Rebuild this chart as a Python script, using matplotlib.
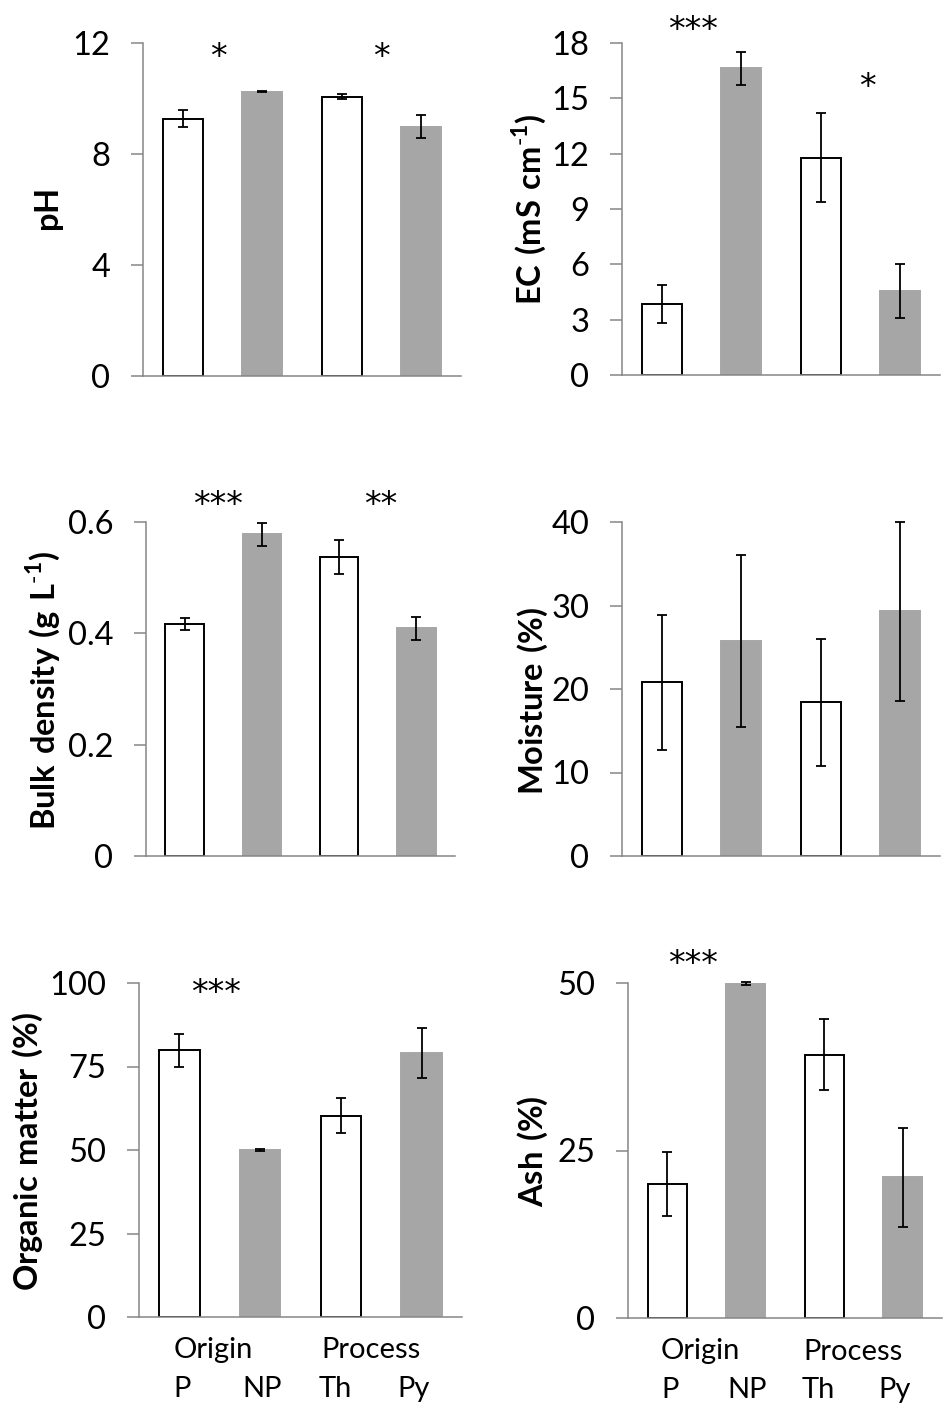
import numpy as np
import matplotlib
matplotlib.use("Agg")
import matplotlib.pyplot as plt
from matplotlib.transforms import blended_transform_factory

plt.rcParams['font.family'] = ['Lato', 'DejaVu Sans']
plt.rcParams['mathtext.fontset'] = 'custom'
plt.rcParams['mathtext.rm'] = 'Lato'
plt.rcParams['mathtext.bf'] = 'Lato:bold'

# categories
groups = ['P', 'NP', 'Th', 'Py']
factors = ['Origin', 'Process']

# means and error bars
ph_mean = [9.27, 10.25, 10.07, 8.99]
ph_err = [0.30, 0.03, 0.09, 0.41]
ec_mean = [3.85, 16.63, 11.78, 4.57]
ec_err = [1.02, 0.90, 2.40, 1.47]
bd_mean = [0.417, 0.578, 0.537, 0.409]
bd_err = [0.011, 0.021, 0.030, 0.021]
moist_mean = [20.8, 25.8, 18.4, 29.3]
moist_err = [8.1, 10.3, 7.6, 10.7]
om_mean = [79.8, 50.0, 60.3, 79.0]
om_err = [5.0, 0.4, 5.2, 7.4]
ash_mean = [20.0, 49.9, 39.3, 21.0]
ash_err = [4.8, 0.2, 5.3, 7.4]

# significance marks (origin comparison, process comparison)
ph_sig = ['*', '*']
ec_sig = ['***', '*']
bd_sig = ['***', '**']
moist_sig = ['', '']
om_sig = ['***', '']
ash_sig = ['***', '']

W, H = 950, 1428
fig = plt.figure(figsize=(W / 100, H / 100), dpi=100)

GRAY = '#a6a6a6'
AXC = '#868686'


def make_axes(left, right, top, bottom):
    return fig.add_axes([left / W, 1 - bottom / H, (right - left) / W, (bottom - top) / H])


panels = [
    # box in pixels, data, ticks, tick labels, ylabel, label pos, stars (x, y)
    dict(box=(143, 461, 43, 376), mean=ph_mean, err=ph_err, ymax=12,
         ticks=[0, 4, 8, 12], tl=None, ylabel=r'$\mathbf{pH}$',
         lab=(50, 210), sig=ph_sig, sigpos=[(0.45, 11.46), (2.5, 11.46)]),
    dict(box=(622, 940, 43, 375), mean=ec_mean, err=ec_err, ymax=18,
         ticks=[0, 3, 6, 9, 12, 15, 18], tl=None,
         ylabel=r'$\mathbf{EC\ (mS\ cm}^{\text{-}\mathbf{1}}\mathbf{)}$',
         lab=(529, 209), sig=ec_sig, sigpos=[(0.39, 18.7), (2.59, 15.6)]),
    dict(box=(146, 455, 522, 856), mean=bd_mean, err=bd_err, ymax=0.6,
         ticks=[0, 0.2, 0.4, 0.6], tl=['0', '0.2', '0.4', '0.6'],
         ylabel=r'$\mathbf{Bulk\ density\ (g\ L}^{\text{-}\mathbf{1}}\mathbf{)}$',
         lab=(43, 690), sig=bd_sig, sigpos=[(0.43, 0.629), (2.54, 0.629)]),
    dict(box=(622, 940, 522, 856), mean=moist_mean, err=moist_err, ymax=40,
         ticks=[0, 10, 20, 30, 40], tl=None, ylabel=r'$\mathbf{Moisture\ (\%)}$',
         lab=(533, 701), sig=moist_sig, sigpos=[(0.5, 42), (2.5, 42)]),
    dict(box=(139, 462, 983, 1317), mean=om_mean, err=om_err, ymax=100,
         ticks=[0, 25, 50, 75, 100], tl=None,
         ylabel=r'$\mathbf{Organic\ matter\ (\%)}$',
         lab=(28, 1151), sig=om_sig, sigpos=[(0.45, 96.8), (2.5, 96.8)]),
    dict(box=(628, 942, 983, 1318), mean=ash_mean, err=ash_err, ymax=50,
         ticks=[0, 25, 50], tl=None, ylabel=r'$\mathbf{Ash\ (\%)}$',
         lab=(533, 1151), sig=ash_sig, sigpos=[(0.33, 52.7), (2.5, 52.7)]),
]

x = np.arange(len(groups))
face = ['white', GRAY, 'white', GRAY]
edge = ['black', GRAY, 'black', GRAY]

for i, p in enumerate(panels):
    ax = make_axes(*p['box'])
    ax.bar(x, p['mean'], width=0.5, color=face, edgecolor=edge, linewidth=1.4, zorder=2)
    ax.errorbar(x, p['mean'], yerr=p['err'], fmt='none', ecolor='black',
                elinewidth=1.3, capsize=3.8, capthick=1.3, zorder=3, clip_on=False)
    ax.set_xlim(-0.5, 3.5)
    ax.set_ylim(0, p['ymax'])
    ax.set_yticks(p['ticks'])
    if p['tl'] is not None:
        ax.set_yticklabels(p['tl'])
    for s in ['top', 'right']:
        ax.spines[s].set_visible(False)
    for s in ['left', 'bottom']:
        ax.spines[s].set_color(AXC)
        ax.spines[s].set_linewidth(1.1)
    ax.tick_params(axis='y', direction='out', length=8.6, width=1.1, color=AXC,
                   labelsize=23.5, pad=15, labelcolor='black')
    ax.tick_params(axis='x', bottom=False, labelbottom=False)
    fig.text(p['lab'][0] / W, 1 - p['lab'][1] / H, p['ylabel'], rotation=90,
             ha='center', va='center', fontsize=23.5)
    for mark, (sx, sy) in zip(p['sig'], p['sigpos']):
        if mark:
            ax.text(sx, sy, mark, ha='center', va='center', fontsize=24,
                    family='DejaVu Sans', clip_on=False)
    if i >= 4:
        tr = blended_transform_factory(ax.transData, ax.transAxes)
        for name, fx in zip(factors, [0.42, 2.37]):
            ax.text(fx, -0.10, name, transform=tr, ha='center', va='center', fontsize=21)
        for name, gx in zip(groups, x + np.array([0.03, 0.02, -0.07, -0.1])):
            ax.text(gx, -0.215, name, transform=tr, ha='center', va='center', fontsize=21)

fig.savefig('out.png', dpi=100)
